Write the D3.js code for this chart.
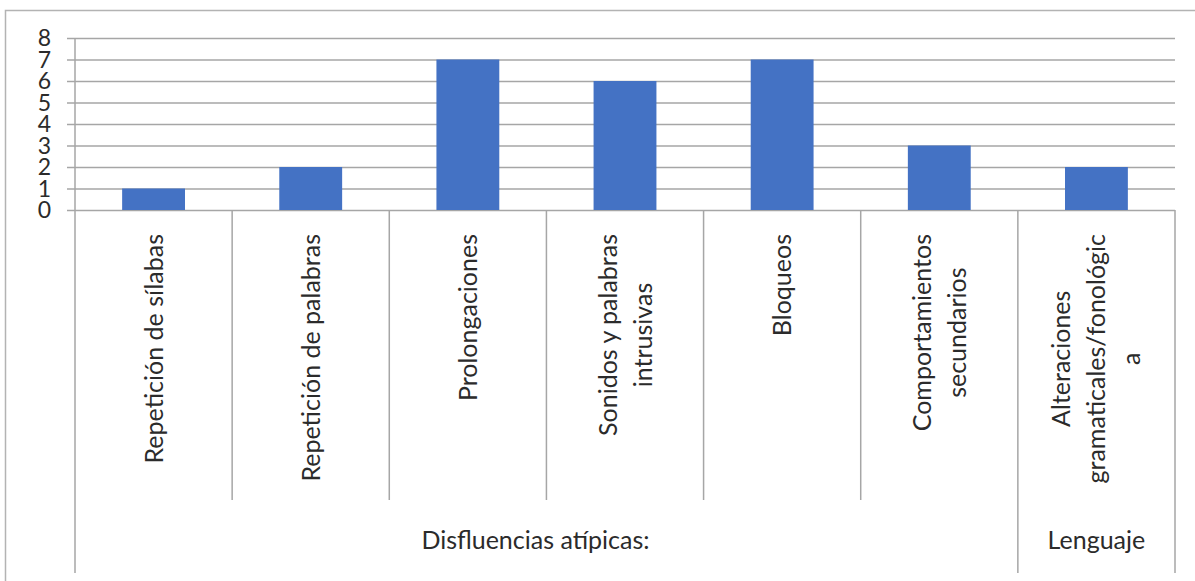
<!DOCTYPE html>
<html>
<head>
<meta charset="utf-8">
<script src="https://cdn.jsdelivr.net/npm/d3@7"></script>
<style>
  body { margin: 0; background: #fff; }
  text { font-family: Lato, "Open Sans", sans-serif; fill: #2b2b2b; }
</style>
</head>
<body>
<script>
w = 1195;
h = 581;

// data
categories = [
  ['Repetición de sílabas'],
  ['Repetición de palabras'],
  ['Prolongaciones'],
  ['Sonidos y palabras', 'intrusivas'],
  ['Bloqueos'],
  ['Comportamientos', 'secundarios'],
  ['Alteraciones', 'gramaticales/fonológic', 'a']
];
values = [1, 2, 7, 6, 7, 3, 2];
groups = ['Disfluencias atípicas:', 'Lenguaje'];
groupSizes = [6, 1];
yTicks = [0, 1, 2, 3, 4, 5, 6, 7, 8];

let plotLeft = 75, plotRight = 1175, plotTop = 38, plotBase = 210;

let xScale = d3.scaleBand()
  .domain(d3.range(categories.length))
  .range([plotLeft, plotRight])
  .paddingInner(0)
  .paddingOuter(0);

let yScale = d3.scaleLinear()
  .domain([0, 8])
  .range([plotBase, plotTop]);

svg = d3.select('body')
  .append('svg')
  .attr('width', w)
  .attr('height', h);

// outer frame (cropped at right and bottom)
svg.append('rect')
  .attr('x', 5.5)
  .attr('y', 10.5)
  .attr('width', 1300)
  .attr('height', 700)
  .attr('fill', 'none')
  .attr('stroke', '#b3b3b3')
  .attr('stroke-width', 1.5);

// gridlines + y axis
let yAxis = d3.axisLeft(yScale)
  .tickValues(yTicks)
  .tickSize(-(plotRight - plotLeft + 8))
  .tickFormat('');

let gy = svg.append('g')
  .attr('transform', `translate(${plotLeft - 8}, 0)`)
  .call(yAxis);
gy.select('.domain').remove();
gy.selectAll('line')
  .attr('stroke', '#a6a6a6')
  .attr('stroke-width', 1.5);

svg.selectAll('.ylab')
  .data(yTicks)
  .enter()
  .append('text')
  .attr('class', 'ylab')
  .attr('x', 51)
  .attr('y', d => yScale(d) + 8)
  .attr('text-anchor', 'end')
  .attr('font-size', 23)
  .text(d => d);

svg.append('line')
  .attr('x1', plotLeft).attr('x2', plotLeft)
  .attr('y1', plotTop).attr('y2', plotBase)
  .attr('stroke', '#a6a6a6')
  .attr('stroke-width', 1.5);

// bars
let barW = xScale.bandwidth() / 2.5;
svg.selectAll('rect.bar')
  .data(values)
  .enter()
  .append('rect')
  .attr('class', 'bar')
  .attr('x', (d, i) => xScale(i) + (xScale.bandwidth() - barW) / 2)
  .attr('y', d => yScale(d))
  .attr('width', barW)
  .attr('height', d => yScale(0) - yScale(d))
  .attr('fill', '#4472c4');

// category separators and group boundaries
let groupEdges = [0];
groupSizes.forEach(s => groupEdges.push(groupEdges[groupEdges.length - 1] + s));
let edgeX = i => i < categories.length ? xScale(i) : plotRight;

d3.range(categories.length + 1).forEach(i => {
  let isGroup = groupEdges.includes(i);
  svg.append('line')
    .attr('x1', edgeX(i)).attr('x2', edgeX(i))
    .attr('y1', plotBase).attr('y2', isGroup ? 573 : 500)
    .attr('stroke', '#a6a6a6')
    .attr('stroke-width', 1.5);
});

// category labels (rotated, lines centered, block starting at y=234)
let lineGap = 35;
categories.forEach((lines, i) => {
  let cx = xScale(i) + xScale.bandwidth() / 2;
  let g = svg.append('g');
  let texts = lines.map((t, j) => g.append('text')
    .attr('font-size', 25)
    .attr('text-anchor', 'middle')
    .text(t));
  let maxLen = d3.max(texts, t => t.node().getComputedTextLength());
  let cy = 234 + maxLen / 2;
  texts.forEach((t, j) => {
    let bx = cx + 9 + (j - (lines.length - 1) / 2) * lineGap;
    t.attr('transform', `translate(${bx}, ${cy}) rotate(-90)`);
  });
});

// group labels (first one sits a little left of centre in the original)
let groupShift = [-11, 0];
groups.forEach((gname, k) => {
  let x0 = edgeX(groupEdges[k]), x1 = edgeX(groupEdges[k + 1]);
  svg.append('text')
    .attr('x', (x0 + x1) / 2)
    .attr('dx', groupShift[k])
    .attr('y', 549)
    .attr('text-anchor', 'middle')
    .attr('font-size', 25)
    .text(gname);
});
</script>
</body>
</html>
